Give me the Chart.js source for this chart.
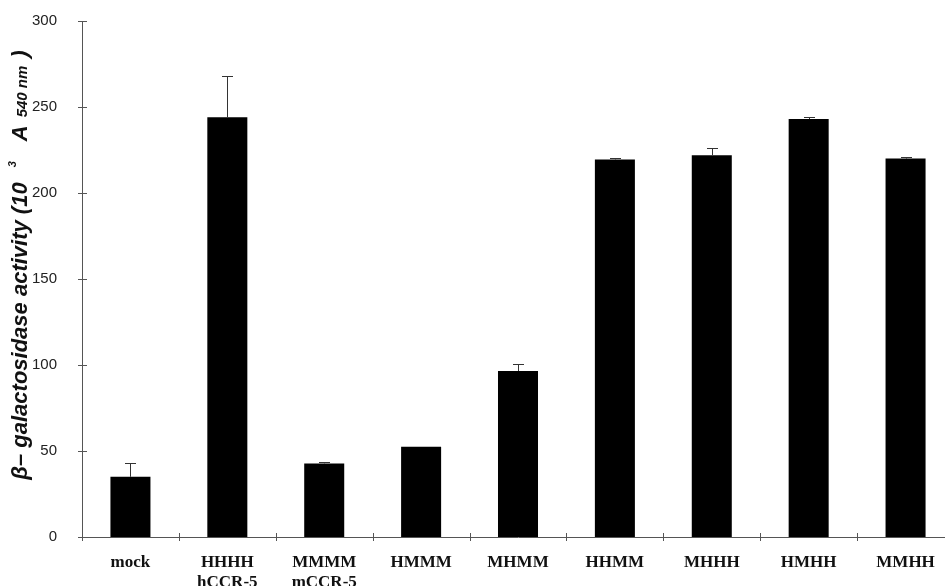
<!DOCTYPE html>
<html><head><meta charset="utf-8">
<script src="https://cdn.jsdelivr.net/npm/chart.js@4/dist/chart.umd.min.js"></script>
<style>
html,body{margin:0;padding:0;background:#fff;overflow:hidden;width:945px;height:586px}
#wrap{position:absolute;left:0;top:0;width:956px;height:586px}
</style>
</head><body>
<div id="wrap"><canvas id="c" width="956" height="586"></canvas></div>
<script>
// Receptor constructs (chimeras of human / mouse CCR-5 domains)
const constructs = [["mock"], ["HHHH", "hCCR-5"], ["MMMM", "mCCR-5"], ["HMMM"], ["MHMM"], ["HHMM"], ["MHHH"], ["HMHH"], ["MMHH"]];
// beta-galactosidase activity (10^3 x A540nm)
const activity = [35, 244, 42.8, 52.5, 96.5, 219.5, 222, 243, 220];
// upper error (SD)
const activityError = [7.8, 24, 0.6, 0, 4, 1, 4, 1, 1];
const yTicks = [0, 50, 100, 150, 200, 250, 300];

const axisColor = '#555';

// Tick marks that cross the axis lines, and one-sided error bars
const decorations = {
  id: 'decorations',
  afterDatasetsDraw(chart) {
    const ctx = chart.ctx;
    const xs = chart.scales.x, ys = chart.scales.y;
    ctx.save();
    ctx.strokeStyle = '#333';
    ctx.lineWidth = 1;
    activity.forEach((v, i) => {
      const e = activityError[i];
      if (!e) return;
      const x = Math.round(xs.getPixelForValue(i)) + 0.5;
      const y0 = ys.getPixelForValue(v);
      const y1 = Math.round(ys.getPixelForValue(v + e)) + 0.5;
      ctx.beginPath();
      ctx.moveTo(x, y0); ctx.lineTo(x, y1);
      ctx.moveTo(x - 5.5, y1); ctx.lineTo(x + 5.5, y1);
      ctx.stroke();
    });
    ctx.strokeStyle = axisColor;
    const half = (xs.getPixelForValue(1) - xs.getPixelForValue(0)) / 2;
    const yAxisY = ys.getPixelForValue(0);
    for (let i = 0; i <= constructs.length; i++) {
      const x = Math.round(xs.getPixelForValue(i) - half) + 0.5;
      ctx.beginPath();
      ctx.moveTo(x, yAxisY - 4); ctx.lineTo(x, yAxisY + 4);
      ctx.stroke();
    }
    const ax = xs.left;
    yTicks.forEach(v => {
      const y = Math.round(ys.getPixelForValue(v)) + 0.5;
      ctx.beginPath();
      ctx.moveTo(ax - 4, y); ctx.lineTo(ax + 5, y);
      ctx.stroke();
    });
    ctx.restore();
  },
  afterDraw(chart) {
    // rotated y-axis title with superscript and small unit text
    const ctx = chart.ctx;
    const parts = [
      { t: 'β– galactosidase activity (10', f: 'italic bold 22px "Liberation Sans"', dy: 0, gap: 0 },
      { t: '3', f: 'italic bold 11px "Liberation Sans"', dy: -11, gap: 15 },
      { t: 'A', f: 'italic bold 22px "Liberation Sans"', dy: 0, gap: 20 },
      { t: '540 nm', f: 'italic bold 15px "Liberation Sans"', dy: 0, gap: 8 },
      { t: ')', f: 'italic bold 22px "Liberation Sans"', dy: 0, gap: 8 }
    ];
    ctx.save();
    let total = 0;
    parts.forEach(p => { ctx.font = p.f; p.w = ctx.measureText(p.t).width; total += p.w + p.gap; });
    ctx.translate(27, 265);
    ctx.rotate(-Math.PI / 2);
    ctx.fillStyle = '#111';
    ctx.textBaseline = 'alphabetic';
    let x = -total / 2;
    parts.forEach(p => { x += p.gap; ctx.font = p.f; ctx.fillText(p.t, x, p.dy); x += p.w; });
    ctx.restore();
  }
};

new Chart(document.getElementById('c'), {
  type: 'bar',
  data: {
    labels: constructs,
    datasets: [{
      data: activity,
      backgroundColor: '#000',
      borderWidth: 0,
      categoryPercentage: 1,
      barPercentage: 0.413
    }]
  },
  options: {
    responsive: false,
    animation: false,
    devicePixelRatio: 1,
    layout: { padding: { top: 0, left: 0, right: 2, bottom: 0 } },
    plugins: { legend: { display: false }, tooltip: { enabled: false } },
    scales: {
      x: {
        grid: { display: false, drawTicks: false },
        border: { display: true, color: axisColor, width: 1 },
        ticks: {
          font: { family: '"Liberation Serif"', weight: 'bold', size: 17 },
          color: '#111', padding: 15, maxRotation: 0, autoSkip: false
        },
        afterFit(s) { s.height = 49; }
      },
      y: {
        min: 0, max: 300,
        afterBuildTicks(s) { s.ticks = yTicks.map(v => ({ value: v })); },
        grid: { display: false, drawTicks: false },
        border: { display: true, color: axisColor, width: 1 },
        ticks: { font: { family: '"Liberation Sans"', size: 15 }, color: '#222', padding: 25 },
        afterFit(s) { s.width = 82; s.paddingTop = 21; }
      }
    }
  },
  plugins: [decorations]
});
</script>
</body></html>
